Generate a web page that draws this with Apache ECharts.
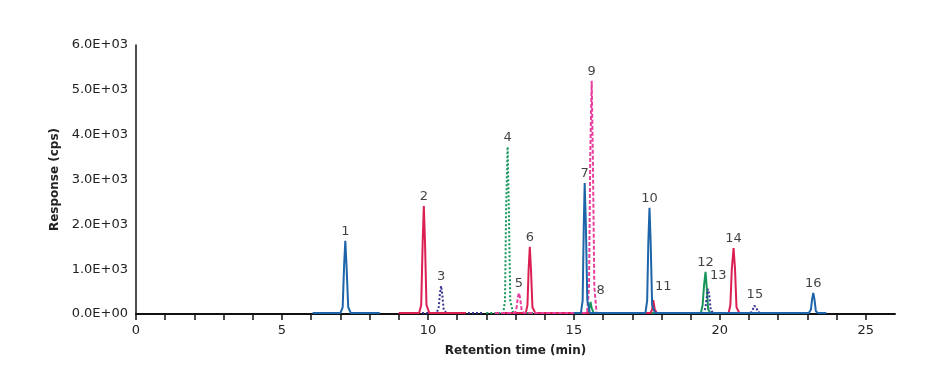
<!DOCTYPE html>
<html>
<head>
<meta charset="utf-8">
<script src="https://cdn.jsdelivr.net/npm/echarts@6/dist/echarts.min.js"></script>
<style>html,body{margin:0;padding:0;background:#fff}#c{width:950px;height:390px}</style>
</head>
<body>
<div id="c"></div>
<script>
// ---- data (retention time in min, response in cps) ----
const blueA = [[6.05,20],[7.0,20],[7.08,150],[7.13,1100],[7.17,1630],[7.21,1100],[7.27,150],[7.36,20],[8.35,20]];
const blueB = [[15.0,20],[15.24,20],[15.3,300],[15.34,2000],[15.37,2920],[15.41,2000],[15.46,300],[15.55,20],
               [17.45,20],[17.51,300],[17.55,1600],[17.59,2370],[17.63,1600],[17.68,200],[17.78,20],
               [23.05,20],[23.12,100],[23.16,330],[23.2,470],[23.24,330],[23.29,60],[23.36,20],[23.65,20]];
const crimsonA = [[9.0,20],[9.7,20],[9.77,200],[9.82,1600],[9.86,2410],[9.9,1600],[9.95,200],[10.05,20],[11.3,20]];
const crimsonB = [[12.6,20],[13.35,20],[13.41,200],[13.45,1000],[13.49,1500],[13.53,1000],[13.58,150],[13.68,20],
                  [17.62,20],[17.68,100],[17.72,310],[17.77,100],[17.84,20],
                  [20.3,20],[20.36,200],[20.41,1000],[20.47,1470],[20.52,1000],[20.57,150],[20.67,20],[21.35,20]];
const navyA = [[9.8,20],[10.3,20],[10.37,150],[10.41,450],[10.45,625],[10.49,450],[10.54,100],[10.63,20],[11.9,20]];
const navyB = [[18.6,20],[19.45,20],[19.51,150],[19.56,420],[19.6,560],[19.64,400],[19.69,80],[19.78,20],
               [21.05,20],[21.12,80],[21.17,180],[21.2,220],[21.24,160],[21.3,50],[21.38,20],[21.6,20]];
const greenDot = [[12.0,20],[12.58,20],[12.64,300],[12.68,2400],[12.73,3730],[12.77,2400],[12.82,300],[12.92,20],[15.2,20]];
const greenSolid = [[15.2,20],[15.48,20],[15.53,130],[15.57,270],[15.61,130],[15.68,20],
                    [19.35,20],[19.41,200],[19.46,650],[19.51,940],[19.55,600],[19.6,100],[19.68,20],[19.95,20]];
const magenta = [[12.3,20],[12.98,20],[13.04,150],[13.08,380],[13.12,470],[13.16,350],[13.21,80],[13.3,20],
                 [15.45,20],[15.52,600],[15.56,3500],[15.61,5200],[15.65,3500],[15.7,600],[15.78,20],[16.0,20]];

const peakNames   = ['1','2','3','4','5','6','7','8','9','10','11','12','13','14','15','16'];
const peakTimes   = [7.17,9.86,10.45,12.73,13.12,13.49,15.37,15.57,15.61,17.59,17.72,19.51,19.6,20.47,21.2,23.2];
const peakHeights = [1630,2410,625,3730,470,1500,2920,270,5200,2370,310,940,560,1470,220,470];

const yTicks = [0,1000,2000,3000,4000,5000,6000];
const xMajor = [0,5,10,15,20,25];
const xMinor = [0,1,2,3,4,5,6,7,8,9,10,11,12,13,14,15,16,17,18,19,20,21,22,23,24,25];

// ---- styles ----
const labelOffsets = {'8':[10,-2],'11':[10,-4],'13':[10,-4]};
const FONT = 'DejaVu Sans';
function line(data, color, type, z) {
  return {type:'line', data:data, showSymbol:false, symbol:'none', smooth:false, z:z||2,
    lineStyle:{color:color, width:2, type:type}, silent:true, animation:false};
}
const BLUE='#1d64a9', CRIMSON='#db1f52', NAVY='#3a3592', GREEN='#17955a', MAGENTA='#e83f9e';

const chart = echarts.init(document.getElementById('c'), null, {renderer:'canvas'});
chart.setOption({
  animation:false,
  grid:{left:136, right:55, top:45, bottom:76, containLabel:false},
  xAxis:{type:'value', min:0, max:26, interval:1,
    name:'Retention time (min)', nameLocation:'middle', nameGap:31,
    nameTextStyle:{fontFamily:FONT, fontWeight:'bold', fontSize:12, color:'#222'},
    axisLine:{onZero:false, lineStyle:{color:'#111', width:2}},
    axisTick:{show:true, length:6, customValues:xMinor, lineStyle:{color:'#111', width:1.5}},
    axisLabel:{customValues:xMajor, fontFamily:FONT, fontSize:13, color:'#222', margin:10},
    splitLine:{show:false}},
  yAxis:{type:'value', min:0, max:6000, interval:1000,
    name:'Response (cps)', nameLocation:'middle', nameGap:71, nameRotate:90,
    nameTextStyle:{fontFamily:FONT, fontWeight:'bold', fontSize:12, color:'#222'},
    axisLine:{show:true, lineStyle:{color:'#111', width:1.5}},
    axisTick:{show:false},
    axisLabel:{customValues:yTicks, fontFamily:FONT, fontSize:13, color:'#222', margin:8,
      formatter:function(v){ if(v===0) return '0.0E+00'; return (v/1000).toFixed(1)+'E+03'; }},
    splitLine:{show:false}},
  series:[
    line(greenDot, GREEN, [2,2], 2),
    line(greenSolid, GREEN, 'solid', 2),
    line(navyA, NAVY, [2,2], 3),
    line(navyB, NAVY, [2,2], 3),
    line(crimsonA, CRIMSON, 'solid', 4),
    line(crimsonB, CRIMSON, 'solid', 4),
    line(magenta, MAGENTA, [4,2], 5),
    line(blueA, BLUE, 'solid', 6),
    line(blueB, BLUE, 'solid', 6),
    {type:'scatter', symbolSize:0, silent:true, z:10,
      data: peakNames.map(function(n,i){
        const off = labelOffsets[n] || [0,0];
        return {value:[peakTimes[i], peakHeights[i]], name:n,
          label:{show:true, formatter:n, position:'top', distance:3, offset:off,
                 fontFamily:FONT, fontSize:13, color:'#111'}};
      })}
  ]
});
</script>
</body>
</html>
